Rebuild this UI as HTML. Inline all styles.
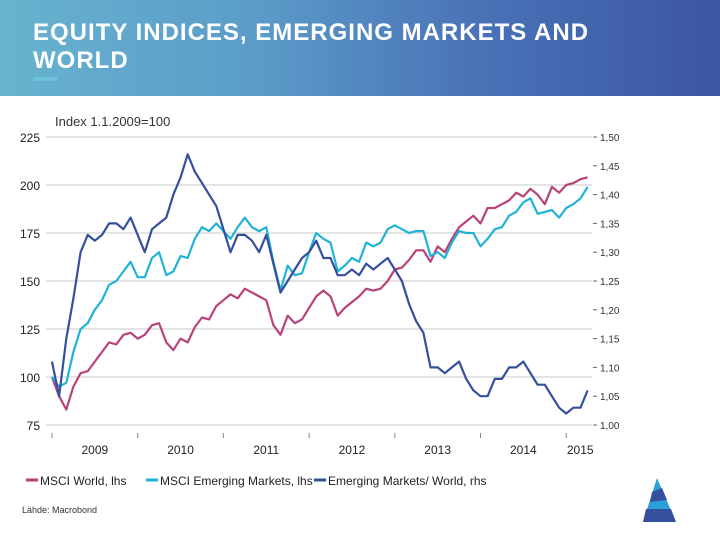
<!DOCTYPE html>
<html><head><meta charset="utf-8"><style>
body{margin:0;width:720px;height:540px;overflow:hidden;background:#fff;font-family:"Liberation Sans",sans-serif;position:relative}
#hdr{position:absolute;left:0;top:0;width:720px;height:96px;background:linear-gradient(90deg,#67b3cf 0%,#5b9cc9 35%,#4a74b8 65%,#3c55a4 100%)}
#title{position:absolute;left:33px;top:19px;color:#fff;font-weight:bold;font-size:24px;line-height:28px;letter-spacing:1px}
#bar{position:absolute;left:33px;top:77px;width:24px;height:4px;background:#6cc3d9}
svg{position:absolute;left:0;top:0}
</style></head><body>
<div id="hdr"></div>
<div id="title">EQUITY INDICES, EMERGING MARKETS AND<br>WORLD</div>
<div id="bar"></div>
<svg id="chart" width="720" height="540"></svg>
<script>
const leftTicks=[75,100,125,150,175,200,225];
const rightTicks=["1,00","1,05","1,10","1,15","1,20","1,25","1,30","1,35","1,40","1,45","1,50"];
const rightTickVals=[1.00,1.05,1.10,1.15,1.20,1.25,1.30,1.35,1.40,1.45,1.50];
const years=[2009,2010,2011,2012,2013,2014,2015];
const world=[100,90,83,95,102,103,108,113,118,117,122,123,
120,122,127,128,118,114,120,118,126,131,130,137,
140,143,141,146,144,142,140,127,122,132,128,130,
136,142,145,142,132,136,139,142,146,145,146,150,
156,157,161,166,166,160,168,165,172,178,181,184,
180,188,188,190,192,196,194,198,195,190,199,196,
200,201,203,204];
const em=[100,95,97,113,125,128,135,140,148,150,155,160,
152,152,162,165,153,155,163,162,172,178,176,180,
176,172,178,183,178,176,178,160,145,158,153,154,
165,175,172,170,155,158,162,160,170,168,170,177,
179,177,175,176,176,163,165,162,170,176,175,175,
168,172,177,178,184,186,191,193,185,186,187,183,
188,190,193,199];
const ratio=[1.11,1.05,1.15,1.22,1.30,1.33,1.32,1.33,1.35,1.35,1.34,1.36,
1.33,1.30,1.34,1.35,1.36,1.40,1.43,1.47,1.44,1.42,1.40,1.38,
1.34,1.30,1.33,1.33,1.32,1.30,1.33,1.28,1.23,1.25,1.27,1.29,
1.30,1.32,1.29,1.29,1.26,1.26,1.27,1.26,1.28,1.27,1.28,1.29,
1.27,1.25,1.21,1.18,1.16,1.10,1.10,1.09,1.10,1.11,1.08,1.06,
1.05,1.05,1.08,1.08,1.10,1.10,1.11,1.09,1.07,1.07,1.05,1.03,
1.02,1.03,1.03,1.06];
const legendLabels=["MSCI World, lhs","MSCI Emerging Markets, lhs","Emerging Markets/ World, rhs"];
const colors=["#b8437a","#1fb3d8","#34509c"];

const svg=document.getElementById('chart');
const NS="http://www.w3.org/2000/svg";
const x0=52, pxYear=85.7, yTop=137, yBot=425, plotL=46, plotR=592;
const xm=i=>x0+i*pxYear/12;
const yL=v=>yBot-(v-75)/150*(yBot-yTop);
const yR=v=>yBot-(v-1.0)/0.5*(yBot-yTop);
function el(t,a){const e=document.createElementNS(NS,t);for(const k in a)e.setAttribute(k,a[k]);svg.appendChild(e);return e;}
function txt(x,y,s,sz,anchor,fill){const e=el('text',{x:x,y:y,'font-size':sz,'text-anchor':anchor||'start',fill:fill||'#222','font-family':'Liberation Sans, sans-serif'});e.textContent=s;return e;}

const u=txt(55,126,"Index 1.1.2009=100",13,'start','#333');



leftTicks.forEach(v=>{
 const g=el('line',{x1:plotL,x2:plotR,y1:yL(v),y2:yL(v),stroke:'#c8c8c8','stroke-width':1});
 
 
 const t=txt(40,yL(v)+5,String(v),12,'end','#222');
 
 
});
rightTicks.forEach((s,i)=>{
 const y=yR(rightTickVals[i]);
 el('line',{x1:593,x2:597,y1:y,y2:y,stroke:'#666','stroke-width':1});
 const t=txt(600,y+4,s,10,'start','#333');
 
 
});
years.forEach((yr,i)=>{
 const x=x0+i*pxYear;
 el('line',{x1:x,x2:x,y1:433,y2:438,stroke:'#888','stroke-width':1});
 const cx=(i<years.length-1)?x+pxYear/2:x+14;
 const t=txt(cx,454,String(yr),12,'middle','#222');
 
 
});
function line(arr,fy,col,name){
 const d=arr.map((v,i)=>(i?'L':'M')+xm(i).toFixed(1)+','+fy(v).toFixed(1)).join('');
 const p=el('path',{d:d,fill:'none',stroke:col,'stroke-width':2.2,'stroke-linejoin':'round'});
 
 
}
line(world,yL,colors[0],'series-msci-world');
line(em,yL,colors[1],'series-msci-em');
line(ratio,yR,colors[2],'series-em-world-ratio');

let lx=26;
const lw=[120,168,170];
legendLabels.forEach((s,i)=>{
 const r=el('line',{x1:lx,x2:lx+12,y1:480,y2:480,stroke:colors[i],'stroke-width':3});
 
 
 const t=txt(lx+14,485,s,12,'start','#222');
 
 
 lx+=lw[i];
});
const src=txt(22,513,"Lähde: Macrobond",9,'start','#333');


const logo=document.createElementNS(NS,'g');


logo.innerHTML='<polygon points="657,478 676,522 643,522" fill="#2c9fd6"/><polygon points="652,492 662,488 667,500 650,502" fill="#34509c"/><polygon points="646,509 671,509 676,522 643,522" fill="#34509c"/>';
svg.appendChild(logo);
</script>
</body></html>
